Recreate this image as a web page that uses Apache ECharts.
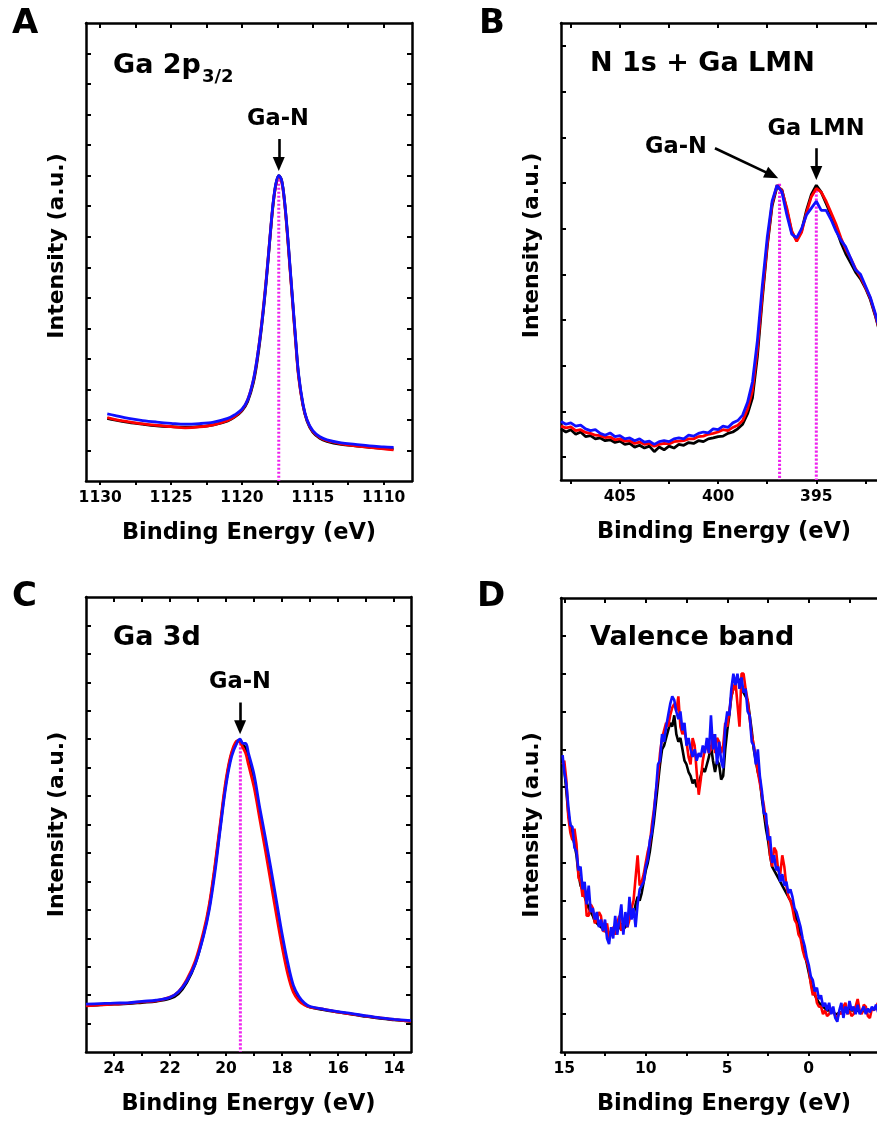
<!DOCTYPE html>
<html>
<head>
<meta charset="utf-8">
<script src="https://cdn.jsdelivr.net/npm/echarts@6/dist/echarts.min.js"></script>
<style>html,body{margin:0;padding:0;background:#fff}#c{width:877px;height:1124px}</style>
</head>
<body>
<div id="c"></div>
<script>
// ---------- Panel A: Ga 2p3/2 ----------
const aEnergy = [1129.5,1129,1128,1127,1126,1125,1124,1123,1122,1121,
  1120.5,1120,1119.6,1119.2,1118.9,1118.6,1118.3,1118.0,1117.8,1117.6,
  1117.4,1117.2,1117.0,1116.8,1116.6,1116.4,1116.2,1116.0,1115.7,1115.4,
  1115.0,1114.5,1114.0,1113.0,1112.0,1111.0,1110.0,1109.3];
const aBlack = [2.05,2.0,1.92,1.86,1.81,1.78,1.76,1.78,1.84,1.97,
  2.1,2.3,2.6,3.2,4.0,5.1,6.45,8.05,9.05,9.72,
  10.0,9.85,9.2,8.15,6.95,5.75,4.55,3.45,2.5,1.96,
  1.6,1.4,1.3,1.2,1.15,1.1,1.07,1.05];
const aRed = [2.08,2.02,1.94,1.87,1.82,1.78,1.74,1.77,1.84,1.98,
  2.12,2.32,2.65,3.28,4.1,5.2,6.55,8.1,9.08,9.72,
  9.98,9.82,9.15,8.1,6.9,5.7,4.5,3.4,2.5,1.98,
  1.62,1.42,1.32,1.22,1.15,1.1,1.05,1.02];
const aBlue = [2.2,2.15,2.05,1.98,1.93,1.89,1.86,1.88,1.93,2.05,
  2.17,2.35,2.65,3.3,4.1,5.15,6.5,8.1,9.1,9.75,
  10.0,9.85,9.2,8.2,7.0,5.8,4.6,3.5,2.55,2.0,
  1.65,1.45,1.35,1.25,1.2,1.15,1.12,1.1];
const aXTicks = [1130,1127.5,1125,1122.5,1120,1117.5,1115,1112.5,1110];
const aXLabels = [1130,1125,1120,1115,1110];
const aYTicks = [1,2,3,4,5,6,7,8,9,10,11,12,13,14];
const aPeaks = [[1117.4, 10.0]];

// ---------- Panel B: N 1s + Ga LMN ----------
const bEnergy = [408,407.75,407.5,407.25,407,406.75,406.5,406.25,406,405.75,
  405.5,405.25,405,404.75,404.5,404.25,404,403.75,403.5,403.25,
  403,402.75,402.5,402.25,402,401.75,401.5,401.25,401,400.75,
  400.5,400.25,400,399.75,399.5,399.25,399,398.75,398.5,398.25,
  398,397.75,397.5,397.25,397,396.75,396.5,396.25,396,395.75,
  395.5,395.25,395,394.75,394.5,394.25,394,393.75,393.5,393.25,
  393,392.75,392.5,392.25,392,391.75,391.5];
const bBlack = [1.12,1.05,1.10,1.00,1.05,0.95,0.97,0.90,0.92,0.86,
  0.88,0.82,0.85,0.78,0.80,0.72,0.76,0.70,0.74,0.62,
  0.72,0.66,0.74,0.70,0.78,0.76,0.82,0.80,0.86,0.84,
  0.90,0.92,0.95,0.96,1.02,1.05,1.12,1.22,1.45,1.80,
  2.70,3.95,5.10,6.00,6.42,6.35,5.90,5.42,5.25,5.45,
  5.90,6.25,6.45,6.30,6.05,5.80,5.50,5.20,4.95,4.75,
  4.55,4.40,4.20,3.95,3.60,3.20,2.80];
const bRed = [1.18,1.14,1.16,1.08,1.10,1.04,1.02,0.98,0.97,0.93,
  0.94,0.88,0.90,0.85,0.86,0.80,0.83,0.78,0.80,0.74,
  0.78,0.80,0.79,0.84,0.85,0.86,0.90,0.90,0.95,0.96,
  1.00,1.02,1.05,1.10,1.08,1.15,1.20,1.30,1.55,1.95,
  2.85,4.05,5.15,6.05,6.45,6.33,5.95,5.45,5.22,5.42,
  5.85,6.20,6.38,6.30,6.10,5.85,5.60,5.30,5.05,4.85,
  4.62,4.45,4.22,3.98,3.62,3.22,2.82];
const bBlue = [1.28,1.22,1.25,1.18,1.20,1.12,1.08,1.10,1.02,0.98,
  1.03,0.95,0.97,0.90,0.92,0.86,0.90,0.83,0.85,0.78,
  0.84,0.86,0.84,0.90,0.92,0.90,0.98,0.96,1.02,1.05,
  1.03,1.12,1.10,1.18,1.15,1.25,1.30,1.42,1.70,2.15,
  3.05,4.25,5.30,6.10,6.45,6.30,5.80,5.38,5.30,5.50,
  5.80,5.95,6.10,5.90,5.90,5.70,5.45,5.25,5.10,4.85,
  4.60,4.50,4.25,4.00,3.65,3.25,2.85];
const bXTicks = [407.5,405,402.5,400,397.5,395,392.5];
const bXLabels = [405,400,395];
const bYTicks = [0.5,1.5,2.5,3.5,4.5,5.5,6.5,7.5,8.5,9.5];
const bPeaks = [[396.87, 6.48],[395.0, 6.42]];

// ---------- Panel C: Ga 3d ----------
const cEnergy = [25.0,24.5,24.0,23.5,23.0,22.5,22.0,21.7,21.4,21.1,
  20.8,20.6,20.4,20.2,20.0,19.8,19.6,19.5,19.4,19.3,
  19.2,19.0,18.8,18.6,18.4,18.2,18.0,17.8,17.6,17.4,
  17.2,17.0,16.5,16.0,15.5,15.0,14.5,14.0,13.4];
const cBlack = [1.63,1.66,1.68,1.7,1.74,1.78,1.88,2.05,2.45,3.1,
  4.15,5.1,6.45,8.0,9.5,10.5,10.92,10.95,10.8,10.7,
  10.35,9.55,8.45,7.35,6.2,5.05,3.95,2.95,2.2,1.85,
  1.68,1.58,1.48,1.4,1.32,1.25,1.18,1.13,1.08];
const cRed = [1.62,1.66,1.68,1.72,1.76,1.8,1.93,2.12,2.55,3.2,
  4.25,5.2,6.55,8.1,9.6,10.55,10.95,10.9,10.7,10.5,
  10.1,9.3,8.2,7.1,5.95,4.8,3.7,2.75,2.1,1.8,
  1.65,1.58,1.5,1.4,1.33,1.26,1.2,1.14,1.08];
const cBlue = [1.68,1.7,1.72,1.73,1.78,1.82,1.92,2.12,2.5,3.1,
  4.1,5.0,6.3,7.9,9.4,10.4,10.9,11.0,10.85,10.85,
  10.5,9.75,8.6,7.55,6.45,5.3,4.15,3.15,2.35,1.95,
  1.72,1.6,1.5,1.42,1.35,1.27,1.2,1.15,1.1];
const cXTicks = [24,23,22,21,20,19,18,17,16,15,14];
const cXLabels = [24,22,20,18,16,14];
const cYTicks = [1,2,3,4,5,6,7,8,9,10,11,12,13,14,15];
const cPeaks = [[19.49, 11.0]];

// ---------- Panel D: Valence band ----------
const dEnergy = [15.1,
  15.0,14.875,14.75,14.625,14.5,14.375,14.25,14.125,
  14.0,13.875,13.75,13.625,13.5,13.375,13.25,13.125,
  13.0,12.875,12.75,12.625,12.5,12.375,12.25,12.125,
  12.0,11.875,11.75,11.625,11.5,11.375,11.25,11.125,
  11.0,10.875,10.75,10.625,10.5,10.375,10.25,10.125,
  10.0,9.875,9.75,9.625,9.5,9.375,9.25,9.125,
  9.0,8.875,8.75,8.625,8.5,8.375,8.25,8.125,
  8.0,7.875,7.75,7.625,7.5,7.375,7.25,7.125,
  7.0,6.875,6.75,6.625,6.5,6.375,6.25,6.125,
  6.0,5.875,5.75,5.625,5.5,5.375,5.25,5.125,
  5.0,4.875,4.75,4.625,4.5,4.375,4.25,4.125,
  4.0,3.875,3.75,3.625,3.5,3.375,3.25,3.125,
  3.0,2.875,2.75,2.625,2.5,2.375,2.25,2.125,
  2.0,1.875,1.75,1.625,1.5,1.375,1.25,1.125,
  1.0,0.875,0.75,0.625,0.5,0.375,0.25,0.125,
  0.0,-0.125,-0.25,-0.375,-0.5,-0.625,-0.75,-0.875,
  -1.0,-1.125,-1.25,-1.375,-1.5,-1.625,-1.75,-1.875,
  -2.0,-2.125,-2.25,-2.375,-2.5,-2.625,-2.75,-2.875,
  -3.0,-3.125,-3.25,-3.375,-3.5,-3.625,-3.75,-3.875,
  -4.0,-4.125,-4.25,-4.375,-4.5,-4.625,-4.75];
const dBlack = [7.7,
  7.5,6.9,6.3,6.0,5.7,5.5,5.2,4.7,
  4.4,4.3,4.1,3.95,3.8,3.7,3.6,3.45,
  3.4,3.35,3.3,3.25,3.2,3.15,3.15,3.1,
  3.2,3.15,3.2,3.3,3.4,3.25,3.3,3.5,
  3.7,3.55,3.6,3.9,4.1,4.0,4.2,4.5,
  4.8,5.0,5.3,5.7,6.1,6.6,7.1,7.6,
  8.0,8.1,8.3,8.5,8.7,8.6,8.9,8.4,
  8.2,8.3,8.0,7.7,7.6,7.4,7.3,7.1,
  7.2,7.0,7.1,7.3,7.5,7.4,7.6,7.8,
  8.1,7.7,7.4,7.7,7.6,7.2,7.3,8.0,
  8.5,8.9,9.4,9.6,9.7,9.9,9.8,9.6,
  9.5,9.4,9.3,8.9,8.5,8.0,7.7,7.4,
  7.2,6.7,6.3,5.9,5.6,5.2,4.9,4.8,
  4.7,4.6,4.5,4.4,4.3,4.2,4.1,4.0,
  3.9,3.7,3.5,3.3,3.1,2.85,2.6,2.35,
  2.1,1.85,1.6,1.5,1.4,1.3,1.25,1.2,
  1.15,1.1,1.1,1.05,1.05,1.0,1.0,1.05,
  1.05,1.1,1.1,1.15,1.15,1.1,1.1,1.1,
  1.1,1.05,1.05,1.1,1.1,1.1,1.1,1.15,
  1.15,1.15,1.15,1.2,1.2,1.2,1.2];
const dRed = [7.6,
  7.7,7.2,6.2,5.8,5.6,5.9,5.5,4.6,
  4.5,4.1,4.4,3.6,3.6,3.9,3.8,3.4,
  3.5,3.7,3.6,3.2,3.2,3.4,3.0,3.2,
  3.3,3.1,3.4,3.6,3.2,3.4,3.5,3.3,
  3.5,3.8,4.0,4.6,5.2,4.4,4.5,4.7,
  5.0,5.3,5.5,6.0,6.4,6.9,7.3,7.9,
  8.3,8.5,8.7,8.6,8.9,9.1,9.2,9.0,
  9.4,8.6,8.4,8.5,8.2,7.8,7.6,8.3,
  8.1,7.4,6.8,7.2,7.7,8.0,8.1,7.9,
  8.0,8.4,7.9,8.3,8.2,7.9,8.1,8.7,
  8.6,9.0,9.4,9.6,9.8,9.2,8.6,10.0,
  10.0,9.6,9.3,8.8,8.4,8.1,7.8,7.4,
  7.1,6.8,6.5,6.1,5.9,5.2,4.9,5.4,
  5.3,4.8,4.7,5.2,4.9,4.4,4.1,4.0,
  3.8,3.5,3.4,3.1,3.0,2.7,2.5,2.4,
  2.2,1.8,1.5,1.6,1.3,1.2,1.2,1.0,
  1.1,0.95,1.0,1.15,1.1,0.95,0.9,1.05,
  1.0,1.2,1.3,1.0,1.1,0.95,1.0,1.2,
  1.4,1.1,1.0,1.25,1.2,0.95,0.9,1.15,
  1.1,1.2,1.3,1.05,1.1,1.25,1.2];
const dBlue = [7.85,
  7.4,7.1,6.5,6.0,5.95,5.4,5.3,4.8,
  4.9,4.3,4.5,3.9,4.4,3.7,3.8,3.5,
  3.7,3.3,3.5,3.2,3.5,3.0,2.85,3.3,
  3.0,3.6,3.1,3.5,3.9,3.1,3.7,3.3,
  4.1,3.5,3.8,3.3,3.9,4.3,4.4,4.5,
  4.9,5.1,5.6,5.8,6.3,6.9,7.6,7.7,
  8.4,8.2,8.6,8.9,9.2,9.4,9.3,9.0,
  8.8,9.0,8.5,8.7,8.1,8.3,8.0,7.8,
  8.0,7.7,7.9,7.8,8.1,7.9,8.3,7.9,
  8.9,8.0,8.4,7.6,8.2,7.7,7.5,8.6,
  9.0,8.9,9.6,10.0,9.7,10.0,9.6,9.9,
  9.5,9.6,9.0,8.9,8.2,8.1,7.6,8.0,
  7.3,6.9,6.3,6.3,5.6,5.7,5.0,5.2,
  4.8,4.9,4.5,4.7,4.4,4.5,4.2,4.3,
  4.1,3.8,3.7,3.5,3.3,3.0,2.8,2.5,
  2.3,2.0,1.9,1.6,1.7,1.4,1.5,1.2,
  1.3,1.1,1.3,1.0,1.2,0.9,0.8,1.1,
  1.3,0.9,1.2,1.0,1.35,1.1,1.2,1.0,
  1.25,1.0,1.1,1.2,1.0,1.15,1.05,1.2,
  1.1,1.25,1.05,1.2,1.3,1.1,1.2];
const dXTicks = [15,12.5,10,7.5,5,2.5,0,-2.5];
const dXLabels = [15,10,5,0];
const dYTicks = [1,2,3,4,5,6,7,8,9,10,11];

// annotation arrows [tailX, tailY, headX, headY] in data units
const aArrows = [[1117.4, 11.2, 1117.4, 10.38]];
const bArrows = [[400.16, 7.26, 397.26, 6.67],[395.0, 7.26, 395.0, 6.72]];
const cArrows = [[19.5, 12.29, 19.5, 11.42]];

const FONT = 'DejaVu Sans';
const BLACK = '#000000', RED = '#ff0000', BLUE = '#1010ff', MAGENTA = '#ee22ee';

const panels = [
  {grid:{left:86, top:23, width:326, height:458}, xr:[1108,1131], yr:[0,15], smooth:0.35, namePad:[0,0,0,12], lw:2.8,
   e:aEnergy, s:[aBlack,aRed,aBlue], xt:aXTicks, xl:aXLabels, yt:aYTicks, peaks:aPeaks, arrows:aArrows},
  {grid:{left:561, top:23, width:326, height:457}, xr:[391.4,408], yr:[0,10], smooth:false, namePad:[0,0,0,12], lw:2.8,
   e:bEnergy, s:[bBlack,bRed,bBlue], xt:bXTicks, xl:bXLabels, yt:bYTicks, peaks:bPeaks, arrows:bArrows},
  {grid:{left:86, top:597, width:325, height:455}, xr:[13.4,25], yr:[0,16], smooth:0.35, namePad:0, lw:2.8,
   e:cEnergy, s:[cBlack,cRed,cBlue], xt:cXTicks, xl:cXLabels, yt:cYTicks, peaks:cPeaks, arrows:cArrows},
  {grid:{left:561, top:598, width:326, height:454}, xr:[-4.8,15.2], yr:[0,12], smooth:false, namePad:0, lw:2.6,
   e:dEnergy, s:[dBlack,dRed,dBlue], xt:dXTicks, xl:dXLabels, yt:dYTicks, peaks:[], arrows:[]}
];

const lineAx = {onZero:false, lineStyle:{color:'#000', width:2.5}};
const grid = [], xAxis = [], yAxis = [], series = [];
panels.forEach((p, i) => {
  grid.push(Object.assign({outerBoundsMode:'none', containLabel:false}, p.grid));
  const xBase = {type:'value', gridIndex:i, min:p.xr[0], max:p.xr[1], inverse:true,
    splitLine:{show:false}, axisLine:lineAx};
  xAxis.push(Object.assign({}, xBase, {position:'bottom',
    axisTick:{show:true, inside:false, length:4, customValues:p.xt, lineStyle:{color:'#000', width:2}},
    axisLabel:{show:true, customValues:p.xl, formatter:(v) => String(v), color:'#000',
      fontFamily:FONT, fontWeight:'bold', fontSize:15.5, margin:9},
    name:'Binding Energy (eV)', nameLocation:'middle', nameGap:41,
    nameTextStyle:{color:'#000', fontFamily:FONT, fontWeight:'bold', fontSize:22.5}}));
  xAxis.push(Object.assign({}, xBase, {position:'top',
    axisTick:{show:true, inside:true, length:5, customValues:p.xt, lineStyle:{color:'#000', width:2}},
    axisLabel:{show:false}}));
  const yBase = {type:'value', gridIndex:i, min:p.yr[0], max:p.yr[1], splitLine:{show:false}, axisLine:lineAx,
    axisTick:{show:true, inside:true, length:5, customValues:p.yt, lineStyle:{color:'#000', width:2}},
    axisLabel:{show:false}};
  yAxis.push(Object.assign({}, yBase, {position:'left',
    name:'Intensity (a.u.)', nameLocation:'middle', nameGap:18,
    nameTextStyle:{color:'#000', fontFamily:FONT, fontWeight:'bold', fontSize:22, padding:p.namePad}}));
  yAxis.push(Object.assign({}, yBase, {position:'right'}));

  p.peaks.forEach((pk) => {
    series.push({type:'line', xAxisIndex:2*i, yAxisIndex:2*i, showSymbol:false, silent:true, z:1,
      data:[[pk[0], pk[1]],[pk[0], p.yr[0]]],
      lineStyle:{color:MAGENTA, width:3, type:[2.2,1.8]}});
  });
  [BLACK, RED, BLUE].forEach((col, k) => {
    series.push({type:'line', xAxisIndex:2*i, yAxisIndex:2*i, showSymbol:false, silent:true, z:2+k,
      smooth:p.smooth,
      data:p.e.map((e, j) => [e, p.s[k][j]]),
      lineStyle:{color:col, width:p.lw}});
  });
  if (p.arrows.length) {
    series.push({type:'line', xAxisIndex:2*i, yAxisIndex:2*i, data:[], silent:true, z:10,
      markLine:{silent:true, animation:false, symbol:['none','triangle'], symbolSize:[12,14],
        label:{show:false}, lineStyle:{color:'#000', width:2.6, type:'solid'},
        data:p.arrows.map(a => [{coord:[a[0], a[1]]},{coord:[a[2], a[3]]}])}});
  }
});

const txt = (x, y, text, size, align) => ({type:'text', x:x, y:y, z:100,
  style:{text:text, fill:'#000', fontFamily:FONT, fontWeight:'bold', fontSize:size,
    textAlign:align || 'left', textVerticalAlign:'middle'}});

const graphic = [
  txt(12, 24, 'A', 34), txt(479, 24, 'B', 34), txt(12, 597, 'C', 34), txt(477, 597, 'D', 34),
  txt(113, 66, 'Ga 2p', 27), txt(202, 77, '3/2', 18),
  txt(590, 64, 'N 1s + Ga LMN', 27),
  txt(113, 638, 'Ga 3d', 27),
  txt(590, 638, 'Valence band', 27),
  txt(278, 119, 'Ga-N', 22.5, 'center'),
  txt(645, 147, 'Ga-N', 22.5, 'left'),
  txt(816, 129, 'Ga LMN', 22.5, 'center'),
  txt(240, 682, 'Ga-N', 22.5, 'center')
];

const chart = echarts.init(document.getElementById('c'), null, {renderer:'canvas'});
chart.setOption({backgroundColor:'#fff', animation:false, grid, xAxis, yAxis, series, graphic});
</script>
</body>
</html>
